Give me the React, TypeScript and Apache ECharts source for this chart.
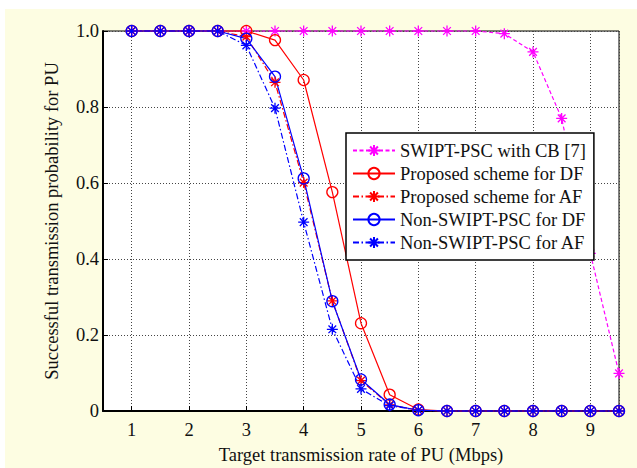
import React, { useEffect, useRef } from "react";
import * as echarts from "echarts";

const rates = [1, 1.5, 2, 2.5, 3, 3.5, 4, 4.5, 5, 5.5, 6, 6.5, 7, 7.5, 8, 8.5, 9, 9.5];
const swiptCB = [1, 1, 1, 1, 1, 1, 1, 1, 1, 1, 1, 1, 1, 0.993, 0.945, 0.77, 0.415, 0.099];
const propDF = [1, 1, 1, 1, 1, 0.976, 0.871, 0.576, 0.231, 0.043, 0.004, 0, 0, 0, 0, 0, 0, 0];
const propAF = [1, 1, 1, 1, 0.985, 0.865, 0.601, 0.29, 0.08, 0.016, 0.002, 0, 0, 0, 0, 0, 0, 0];
const nonDF = [1, 1, 1, 1, 0.98, 0.88, 0.612, 0.289, 0.083, 0.017, 0.002, 0, 0, 0, 0, 0, 0, 0];
const nonAF = [1, 1, 1, 1, 0.962, 0.797, 0.497, 0.215, 0.058, 0.014, 0.002, 0, 0, 0, 0, 0, 0, 0];
const seriesNames = [
  "SWIPT-PSC with CB [7]",
  "Proposed scheme for DF",
  "Proposed scheme for AF",
  "Non-SWIPT-PSC for DF",
  "Non-SWIPT-PSC for AF",
];
const xName = "Target transmission rate of PU (Mbps)";
const yName = "Successful transmission probability for PU";

const STAR = "path://M0,5L10,5M5,0L5,10M1.5,1.5L8.5,8.5M1.5,8.5L8.5,1.5";
const FONT = "Liberation Serif";
const FS = 18.5;

export default function App() {
  const ref = useRef<HTMLDivElement>(null);
  useEffect(() => {
    if (!ref.current) return;
    const chart = echarts.init(ref.current, null, { renderer: "svg" });
    const mk = (
      name: string,
      data: number[],
      color: string,
      symbol: string,
      type: any,
      size: number
    ) => ({
      name,
      type: "line",
      data: rates.map((r, i) => [r, data[i]]),
      symbol,
      symbolSize: size,
      showAllSymbol: true,
      clip: false,
      lineStyle: { color, width: 1.2, type },
      itemStyle: {
        color: symbol === "circle" ? "rgba(0,0,0,0)" : color,
        borderColor: color,
        borderWidth: 1.3,
      },
      emphasis: { disabled: true },
    });
    chart.setOption({
      animation: false,
      backgroundColor: "#ffffff",
      textStyle: { fontFamily: FONT },
      graphic: [
        {
          type: "rect",
          shape: { x: 5, y: 9, width: 632, height: 459 },
          style: { fill: "#fdfde2" },
          z: -10,
          silent: true,
        },
      ],
      grid: {
        left: 103,
        top: 31,
        right: 18,
        bottom: 57,
        containLabel: false,
        outerBoundsMode: "none",
        show: true,
        backgroundColor: "#ffffff",
        borderColor: "#000",
        borderWidth: 1,
        z: 0,
      },
      legend: {
        orient: "vertical",
        left: 346,
        top: 133,
        padding: [8, 8, 8, 6],
        itemGap: 4,
        itemWidth: 42,
        itemHeight: 14,
        backgroundColor: "#ffffff",
        borderColor: "#000",
        borderWidth: 1.5,
        textStyle: { fontFamily: FONT, fontSize: FS, color: "#111" },
        data: seriesNames,
      },
      xAxis: {
        type: "value",
        min: 0.5,
        max: 9.5,
        splitNumber: 9,
        name: xName,
        nameLocation: "middle",
        nameGap: 34,
        nameTextStyle: { fontFamily: FONT, fontSize: FS, color: "#111" },
        axisLine: { show: true, onZero: false, lineStyle: { color: "#000", width: 2 } },
        axisTick: { show: true, inside: true, length: 5, lineStyle: { color: "#000" } },
        axisLabel: {
          margin: 9,
          fontFamily: FONT,
          fontSize: FS,
          color: "#111",
          formatter: (v: number) => (Number.isInteger(v) ? String(v) : ""),
        },
        splitLine: { show: true, lineStyle: { color: "#444", type: [1, 2], width: 1 } },
      },
      yAxis: {
        type: "value",
        min: 0,
        max: 1,
        interval: 0.2,
        name: yName,
        nameLocation: "middle",
        nameGap: 42,
        nameTextStyle: { fontFamily: FONT, fontSize: FS, color: "#111" },
        axisLine: { show: true, onZero: false, lineStyle: { color: "#000", width: 2 } },
        axisTick: { show: true, inside: true, length: 5, lineStyle: { color: "#000" } },
        axisLabel: {
          margin: 4,
          fontFamily: FONT,
          fontSize: FS,
          color: "#111",
          formatter: (v: number) => (v === 0 ? "0" : v.toFixed(1)),
        },
        splitLine: { show: true, lineStyle: { color: "#444", type: [1, 2], width: 1 } },
      },
      series: [
        mk(seriesNames[0], swiptCB, "#ff00ff", STAR, [4, 2.5], 11),
        mk(seriesNames[1], propDF, "#ff0000", "circle", "solid", 11),
        mk(seriesNames[2], propAF, "#ff0000", STAR, [6, 2.5, 1.5, 2.5], 11),
        mk(seriesNames[3], nonDF, "#0000ff", "circle", "solid", 11),
        mk(seriesNames[4], nonAF, "#0000ff", STAR, [6, 2.5, 1.5, 2.5], 11),
      ],
    });
    return () => chart.dispose();
  }, []);
  return (
    <div
      ref={ref}
      style={{ position: "fixed", left: 0, top: 0, width: 637, height: 468 }}
    />
  );
}
